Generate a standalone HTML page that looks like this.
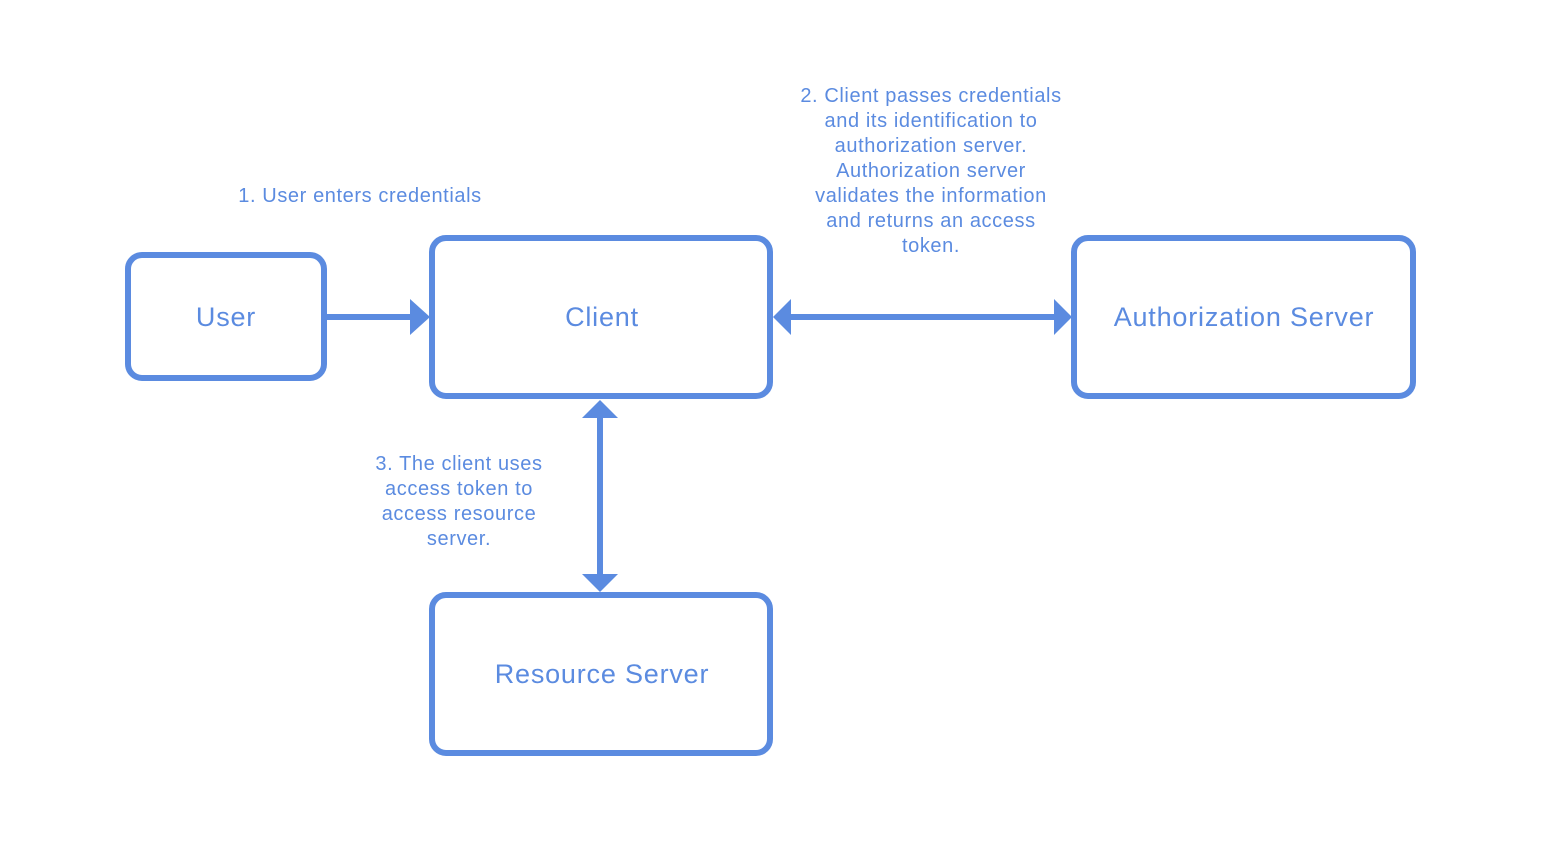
<!DOCTYPE html>
<html><head><style>
html,body{margin:0;padding:0;background:#fff;}
svg text{font-family:"Liberation Sans",Arial,sans-serif;fill:#5b8be0;}
</style></head><body>
<svg width="1554" height="850" viewBox="0 0 1554 850" xmlns="http://www.w3.org/2000/svg">
<g fill="none" stroke="#5b8be0" stroke-width="6">
<rect x="128" y="255" width="196" height="123" rx="14"/>
<rect x="432" y="238" width="338" height="158" rx="14"/>
<rect x="1074" y="238" width="339" height="158" rx="14"/>
<rect x="432" y="595" width="338" height="158" rx="14"/>
<line x1="326" y1="317" x2="414" y2="317"/>
<line x1="788" y1="317" x2="1056" y2="317"/>
<line x1="600" y1="416" x2="600" y2="575"/>
</g>
<g fill="#5b8be0">
<polygon points="410,299 430,317 410,335"/>
<polygon points="791,299 773,317 791,335"/>
<polygon points="1054,299 1072,317 1054,335"/>
<polygon points="582,418 600,400 618,418"/>
<polygon points="582,574 600,592 618,574"/>
</g>
<g font-size="27" text-anchor="middle" letter-spacing="0.8">
<text x="226" y="326">User</text>
<text x="602" y="326">Client</text>
<text x="1244" y="326">Authorization Server</text>
<text x="602" y="683">Resource Server</text>
</g>
<g font-size="20" text-anchor="middle" letter-spacing="0.6">
<text x="360" y="202">1. User enters credentials</text>
<text x="931" y="102">2. Client passes credentials</text>
<text x="931" y="127">and its identification to</text>
<text x="931" y="152">authorization server.</text>
<text x="931" y="177">Authorization server</text>
<text x="931" y="202">validates the information</text>
<text x="931" y="227">and returns an access</text>
<text x="931" y="252">token.</text>
<text x="459" y="470">3. The client uses</text>
<text x="459" y="495">access token to</text>
<text x="459" y="520">access resource</text>
<text x="459" y="545">server.</text>
</g>
</svg>
</body></html>
